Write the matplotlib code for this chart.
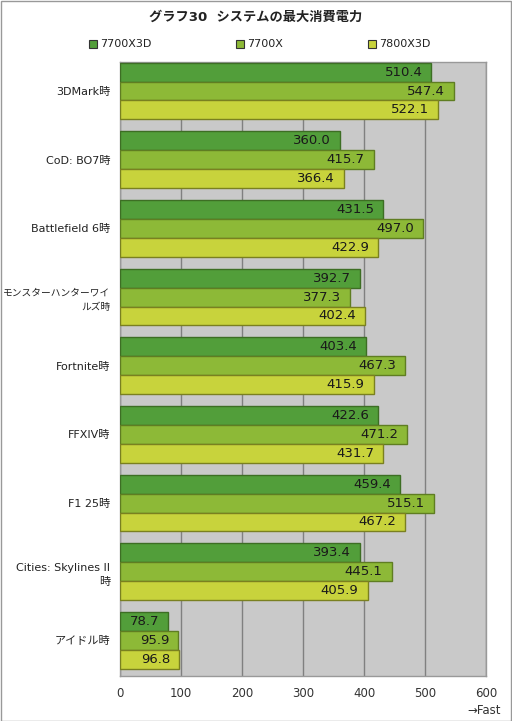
import numpy as np
import matplotlib.pyplot as plt

plt.rcParams['font.family'] = ['DejaVu Sans', 'Noto Sans CJK JP']

categories = ["3DMark時", "CoD: BO7時", "Battlefield 6時", "モンスターハンターワイ\nルズ時",
              "Fortnite時", "FFXIV時", "F1 25時", "Cities: Skylines II\n時", "アイドル時"]
series_names = ["7700X3D", "7700X", "7800X3D"]
v_7700x3d = [510.4, 360.0, 431.5, 392.7, 403.4, 422.6, 459.4, 393.4, 78.7]
v_7700x = [547.4, 415.7, 497.0, 377.3, 467.3, 471.2, 515.1, 445.1, 95.9]
v_7800x3d = [522.1, 366.4, 422.9, 402.4, 415.9, 431.7, 467.2, 405.9, 96.8]
x_ticks = [0, 100, 200, 300, 400, 500, 600]

colors = ["#529e3a", "#8db937", "#c8d33c"]
edges = ["#3d6e24", "#5f7d22", "#7a8020"]

W, H = 512, 721
fig = plt.figure(figsize=(W / 100, H / 100), dpi=100)
ax = fig.add_axes([120 / W, 1 - 676 / H, 366 / W, 614 / H])

ax.set_facecolor("#c9c9c9")
n = len(categories)
bh = 0.275
ys = np.arange(n)
series = [v_7700x3d, v_7700x, v_7800x3d]
for i, vals in enumerate(series):
    pos = ys + (i - 1) * bh
    ax.barh(pos, vals, height=bh, color=colors[i], edgecolor=edges[i], linewidth=1, zorder=3)
    for p, v in zip(pos, vals):
        ax.annotate(f"{v:.1f}", (v, p), xytext=(-6.5, 0), textcoords="offset points",
                    ha="right", va="center", fontsize=9.5, color="#1a1a1a", zorder=4)

top = -1.5 * bh - 0.01
ax.set_xlim(0, 600)
ax.set_ylim(top + 8.94, top)
ax.set_xticks(x_ticks)
ax.set_xticklabels([str(t) for t in x_ticks], fontsize=8.5, color="#333333")
ax.set_yticks(ys)
ax.set_yticklabels(categories, fontsize=8, color="#222222", linespacing=1.5)
ax.get_yticklabels()[3].set_fontsize(7)
ax.tick_params(length=0, pad=7)
ax.tick_params(axis="x", pad=8)
ax.grid(axis="x", color="#808080", linewidth=1, zorder=1)
for s in ax.spines.values():
    s.set_color("#999999")
    s.set_linewidth(1)

fig.text(0.5, 1 - 17 / H, "グラフ30  システムの最大消費電力", ha="center", va="center",
         fontsize=9.5, fontweight="bold", color="#222222")
leg_x = [89, 236, 368]
for i, name in enumerate(series_names):
    fig.patches.append(plt.Rectangle((leg_x[i] / W, 1 - 48 / H), 8 / W, 8 / H,
                                     transform=fig.transFigure, facecolor=colors[i],
                                     edgecolor="#333333", linewidth=0.8))
    fig.text((leg_x[i] + 11) / W, 1 - 44 / H, name, ha="left", va="center", fontsize=8, color="#222222")

fig.text(501 / W, 1 - 710 / H, "→Fast", ha="right", va="center", fontsize=8.5, color="#333333")
fig.patches.append(plt.Rectangle((0.5 / W, 0.5 / H), (W - 1.5) / W, (H - 1.5) / H,
                                 transform=fig.transFigure, facecolor="none",
                                 edgecolor="#999999", linewidth=1))

fig.savefig("out.png", dpi=100)
